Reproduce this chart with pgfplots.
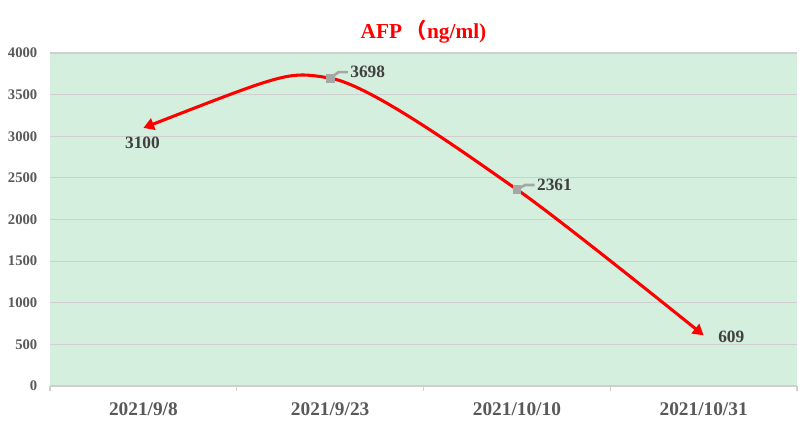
\documentclass[border=0pt]{standalone}
\usepackage{pgfplots}
\pgfplotsset{compat=1.18}
\usepackage{fontspec}
\setmainfont{Liberation Serif}
\newfontfamily\cjk{Noto Sans CJK SC}
\usetikzlibrary{arrows.meta}
\definecolor{bgc}{HTML}{D5EFDE}
\definecolor{gridc}{HTML}{CFCFCF}
\definecolor{tickc}{HTML}{595959}
\definecolor{labc}{HTML}{404040}
\definecolor{markc}{HTML}{A6A6A6}
\begin{document}
\begin{tikzpicture}
\begin{axis}[
  scale only axis,
  width=560.25pt, height=249.75pt,
  xmin=-0.5, xmax=3.5, ymin=0, ymax=4000,
  xtick={0,1,2,3},
  xticklabels={2021/9/8,2021/9/23,2021/10/10,2021/10/31},
  minor xtick={-0.5,0.5,1.5,2.5,3.5},
  ytick={0,500,...,4000},
  major tick length=0pt,
  minor tick length=4pt,
  tick align=outside,
  axis x line*=bottom,
  axis y line*=left,
  y axis line style={draw=none},
  x axis line style={draw=gridc, line width=0.8pt},
  minor tick style={draw=gridc, line width=0.8pt},
  ymajorgrids,
  grid style={draw=gridc, line width=0.8pt},
  axis background/.style={fill=bgc},
  /pgf/number format/assume math mode=true,
  /pgf/number format/1000 sep={},
  scaled ticks=false,
  yticklabel style={font=\fontsize{11}{13}\selectfont\bfseries, text=tickc, xshift=-6pt},
  xticklabel style={font=\fontsize{14.5}{16}\selectfont\bfseries, text=tickc, yshift=-9pt},
  clip=false,
]
\addplot[draw=red, line width=2.3pt, smooth, tension=0.4, {Triangle[length=8pt,width=9pt]}-{Triangle[length=8pt,width=9pt]}]
  coordinates {(0,3100) (1,3698) (2,2361) (3,609)};
\addplot[only marks, mark=square*, mark size=2.8pt, color=markc]
  coordinates {(1,3698) (2,2361)};
\draw[markc, line width=2pt] (axis cs:1,3698) -- (axis cs:1.045,3770) -- (axis cs:1.095,3770);
\draw[markc, line width=2pt] (axis cs:2,2361) -- (axis cs:2.045,2415) -- (axis cs:2.095,2415);
\tikzset{dl/.style={font=\fontsize{13}{15}\selectfont\bfseries, text=labc, inner sep=1pt}}
\node[dl, anchor=center] at (axis cs:-0.005,2919) {3100};
\node[dl, anchor=west] at (axis cs:1.1,3772) {3698};
\node[dl, anchor=west] at (axis cs:2.1,2415) {2361};
\node[dl, anchor=west] at (axis cs:3.07,589) {609};
\node[anchor=base, text=red, font=\fontsize{16}{18}\selectfont\bfseries] at (rel axis cs:0.5,1) [yshift=11pt] {AFP\,{\cjk （}ng/ml)};
\end{axis}
\pgfresetboundingbox
\useasboundingbox (-37.5pt,-32.25pt) rectangle (562.5pt,289.5pt);
\end{tikzpicture}
\end{document}
